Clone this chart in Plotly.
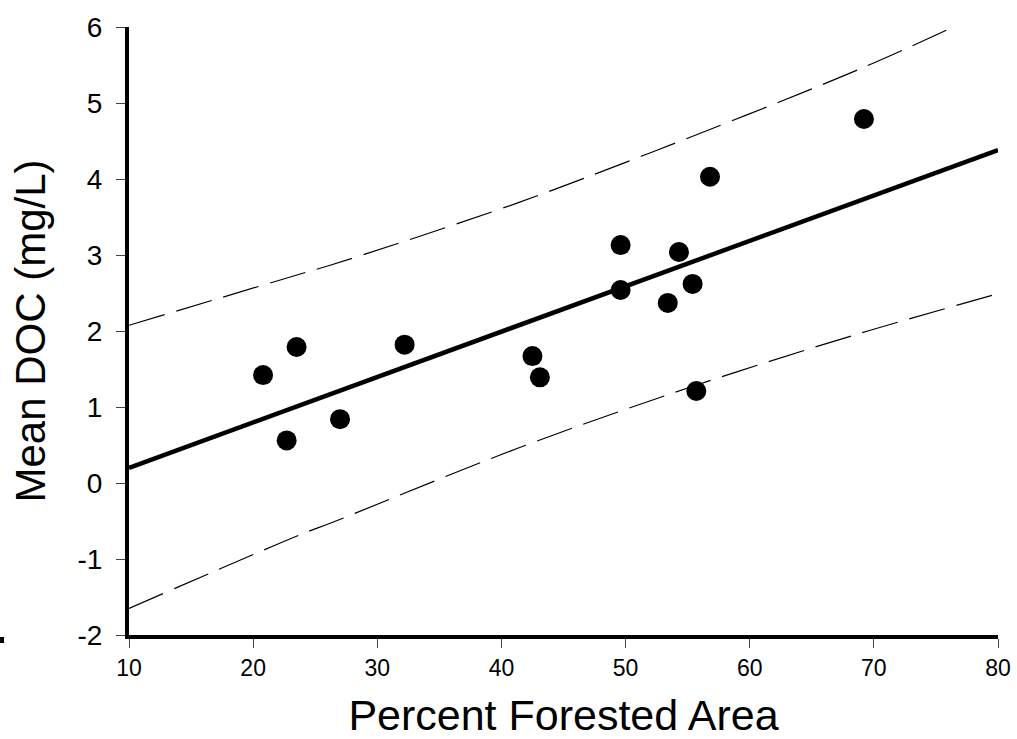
import plotly.graph_objects as go

# Observed data (Percent Forested Area vs Mean DOC)
forest_pct = [20.8, 22.7, 23.5, 27.0, 32.2, 42.5, 43.1, 49.6, 49.6, 53.4, 54.3, 55.4, 55.7, 56.8, 69.2]
mean_doc = [1.42, 0.56, 1.79, 0.84, 1.82, 1.67, 1.39, 3.13, 2.54, 2.37, 3.04, 2.62, 1.21, 4.03, 4.79]

# Regression line
fit_x = [10, 80]
fit_y = [0.20, 4.38]

# Prediction band curves
upper_x = [10, 23.8, 26.2, 41.2, 55.2, 68.9, 76.4]
upper_y = [2.075, 2.75, 2.865, 3.68, 4.55, 5.45, 6.0]
lower_x = [10, 23.8, 26.2, 41.2, 55.2, 68.9, 80]
lower_y = [-1.65, -0.68, -0.53, 0.45, 1.26, 1.97, 2.49]

x_ticks = [10, 20, 30, 40, 50, 60, 70, 80]
y_ticks = [-2, -1, 0, 1, 2, 3, 4, 5, 6]

FONT = "Arial, Liberation Sans, sans-serif"

fig = go.Figure()
fig.add_trace(go.Scatter(x=upper_x, y=upper_y, mode="lines",
                         line=dict(color="black", width=1.2, dash="37px,12px", shape="spline"),
                         hoverinfo="skip"))
fig.add_trace(go.Scatter(x=lower_x, y=lower_y, mode="lines",
                         line=dict(color="black", width=1.2, dash="37px,12px", shape="spline"),
                         hoverinfo="skip"))
fig.add_trace(go.Scatter(x=fit_x, y=fit_y, mode="lines",
                         line=dict(color="black", width=4.5), hoverinfo="skip"))
fig.add_trace(go.Scatter(x=forest_pct, y=mean_doc, mode="markers",
                         marker=dict(color="black", size=20, line=dict(width=0))))

fig.update_layout(
    width=1017, height=739,
    margin=dict(l=129, r=19, t=27, b=104, pad=0),
    paper_bgcolor="white", plot_bgcolor="white",
    showlegend=False,
    font=dict(family=FONT, color="black"),
    shapes=[dict(type="rect", xref="paper", yref="paper",
                 x0=-0.1484, x1=-0.1438, y0=-0.0132, y1=-0.0033,
                 fillcolor="black", line=dict(width=0))],
)
fig.update_xaxes(
    range=[10, 80], tickvals=x_ticks, ticktext=[str(v) for v in x_ticks],
    showgrid=False, zeroline=False,
    showline=True, linecolor="black", linewidth=4,
    ticks="outside", ticklen=9, tickwidth=1, tickcolor="#444",
    tickfont=dict(size=23, family=FONT, color="black"),
    title=dict(text="Percent Forested Area", font=dict(size=43, family=FONT, color="black"), standoff=25),
    automargin=False,
)
fig.update_yaxes(
    range=[-2, 6], tickvals=y_ticks, ticktext=[str(v) for v in y_ticks],
    showgrid=False, zeroline=False,
    showline=True, linecolor="black", linewidth=4,
    ticks="outside", ticklen=9, tickwidth=1, tickcolor="#444",
    tickfont=dict(size=28, family=FONT, color="black"),
    ticklabelstandoff=8,
    title=dict(text="Mean DOC (mg/L)", font=dict(size=42, family=FONT, color="black"), standoff=20),
    automargin=False,
)

fig.write_html("out.html", config={"displayModeBar": False},
               post_script="document.body.style.margin='0';")
